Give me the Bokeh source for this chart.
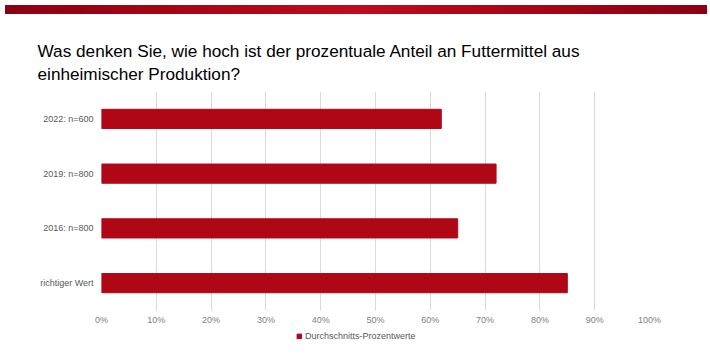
from bokeh.plotting import figure
from bokeh.models import (Range1d, FactorRange, Legend, LegendItem, Title, Div,
                          NumeralTickFormatter, FixedTicker, ColumnDataSource)
from bokeh.layouts import column
from bokeh.embed import file_html
from bokeh.resources import INLINE

title_lines = ["Was denken Sie, wie hoch ist der prozentuale Anteil an Futtermittel aus",
               "einheimischer Produktion?"]
categories = ["richtiger Wert", "2016: n=800", "2019: n=800", "2022: n=600"]
values = [0.85, 0.65, 0.72, 0.62]
series_name = "Durchschnitts-Prozentwerte"
x_ticks = [0.0, 0.1, 0.2, 0.3, 0.4, 0.5, 0.6, 0.7, 0.8, 0.9, 1.0]

FONT = "Liberation Sans"
BAR = "#b00717"
W = 702

banner = Div(text="", width=W, height=9,
             styles={"background": "linear-gradient(90deg, #8c0010 0%, #c10a1d 50%, #8c0010 100%)"})

p = figure(width=W, height=308, output_backend="svg", toolbar_location=None,
           y_range=FactorRange(*categories), x_range=Range1d(0, 1),
           min_border_left=101, min_border_right=53, min_border_top=72, min_border_bottom=17)
p.outline_line_color = None
p.background_fill_color = "white"

src = ColumnDataSource(dict(cat=categories, val=values))
r = p.hbar(y="cat", right="val", left=0, height=0.35, source=src,
           fill_color=BAR, line_color=BAR)

p.xaxis.ticker = FixedTicker(ticks=x_ticks)
p.xaxis.formatter = NumeralTickFormatter(format="0%")
p.xaxis.axis_line_color = None
p.xaxis.major_tick_line_color = None
p.xaxis.minor_tick_line_color = None
p.xaxis.major_tick_out = 0
p.xaxis.major_tick_in = 0
p.xaxis.major_label_text_font = FONT
p.xaxis.major_label_text_font_size = "9px"
p.xaxis.major_label_text_color = "#7f7f7f"
p.xaxis.major_label_standoff = 4

p.yaxis.axis_line_color = None
p.yaxis.major_tick_line_color = None
p.yaxis.minor_tick_line_color = None
p.yaxis.major_tick_out = 0
p.yaxis.major_tick_in = 0
p.yaxis.major_label_text_font = FONT
p.yaxis.major_label_text_font_size = "9px"
p.yaxis.major_label_text_color = "#595959"
p.yaxis.major_label_standoff = 8

p.xgrid.grid_line_color = "#d9d9d9"
p.ygrid.grid_line_color = None

p.add_layout(Title(text="\n".join(title_lines), text_font=FONT, text_font_size="17.2px",
                   text_font_style="normal", text_color="#000000", align="left",
                   text_line_height=1.16, offset=-64, standoff=15), "above")

# legend strip below the chart
p2 = figure(width=W, height=18, output_backend="svg", toolbar_location=None,
            x_axis_type=None, y_axis_type=None, min_border=0,
            x_range=Range1d(0, 1), y_range=Range1d(0, 1))
p2.outline_line_color = None
p2.grid.grid_line_color = None
lr = p2.quad(left=[0], right=[0], top=[0], bottom=[0], fill_color=BAR, line_color=BAR)
legend = Legend(items=[LegendItem(label=series_name, renderers=[lr])],
                orientation="horizontal", location=(195, 4),
                glyph_width=6, glyph_height=6, label_standoff=3, label_height=10,
                label_text_font=FONT, label_text_font_size="9px",
                label_text_color="#595959", border_line_color=None,
                background_fill_alpha=0, padding=0, margin=0, spacing=0)
p2.add_layout(legend)

layout = column(banner, p, p2, spacing=0)
open("out.html", "w").write(file_html(layout, INLINE))
